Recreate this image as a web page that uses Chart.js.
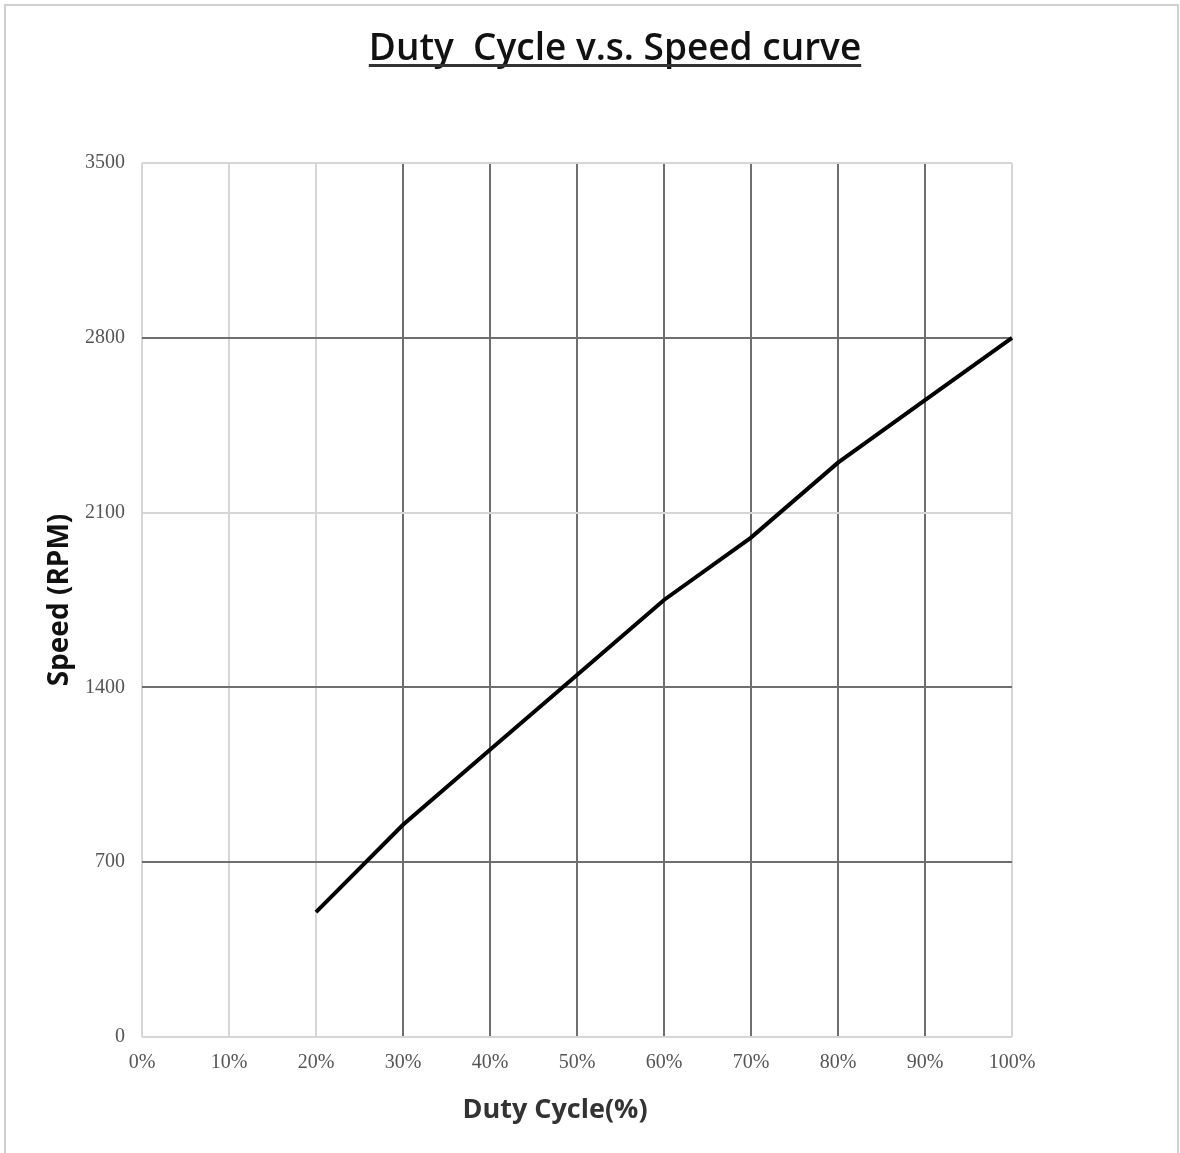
<!DOCTYPE html>
<html>
<head>
<meta charset="utf-8">
<script src="https://cdn.jsdelivr.net/npm/chart.js@4"></script>
<style>
  body { margin: 0; background: #fff; }
</style>
</head>
<body>
<canvas id="chart" width="1180" height="1153"></canvas>
<script>
// data
const dutyLabels = ["0%", "10%", "20%", "30%", "40%", "50%", "60%", "70%", "80%", "90%", "100%"];
const speedValues = [null, null, 500, 850, 1150, 1450, 1750, 2000, 2300, 2550, 2800];
const yTicks = [0, 700, 1400, 2100, 2800, 3500];
const titleText = "Duty  Cycle v.s. Speed curve";
const xTitleText = "Duty Cycle(%)";

const lightGrid = "#d6d6d6";
const darkGrid = "#6f6f6f";

// frame, underlined title and x axis title
const decorPlugin = {
  id: "decor",
  beforeDraw(chart) {
    const ctx = chart.ctx;
    ctx.save();
    ctx.fillStyle = "#fff";
    ctx.fillRect(0, 0, chart.width, chart.height);
    ctx.strokeStyle = "#d0d0d0";
    ctx.lineWidth = 2;
    ctx.strokeRect(5, 5, 1173, 1160);
    ctx.restore();
  },
  afterDraw(chart) {
    const ctx = chart.ctx;
    ctx.save();
    ctx.font = "600 37px 'Open Sans'";
    ctx.fillStyle = "#111";
    ctx.textAlign = "center";
    ctx.textBaseline = "alphabetic";
    const cx = 615, base = 60;
    ctx.fillText(titleText, cx, base);
    const w = ctx.measureText(titleText).width;
    ctx.fillStyle = "#333";
    ctx.fillRect(cx - w / 2, base + 4, w, 3);

    ctx.font = "bold 27px 'Open Sans'";
    ctx.textBaseline = "middle";
    ctx.fillText(xTitleText, 555, 1110);
    ctx.restore();
  }
};

new Chart(document.getElementById("chart"), {
  type: "line",
  data: {
    labels: dutyLabels,
    datasets: [{
      label: "Speed",
      data: speedValues,
      borderColor: "#000",
      borderWidth: 4,
      pointRadius: 0,
      tension: 0,
      fill: false
    }]
  },
  options: {
    responsive: false,
    animation: false,
    layout: { padding: { top: 163, right: 168, left: 0, bottom: 0 } },
    plugins: {
      legend: { display: false },
      tooltip: { enabled: false }
    },
    scales: {
      x: {
        offset: false,
        afterFit: (scale) => { scale.height = 116; },
        grid: {
          drawTicks: false,
          lineWidth: 2,
          color: (c) => ([0, 1, 2, 10].includes(c.index) ? lightGrid : darkGrid)
        },
        border: { display: false },
        ticks: {
          padding: 14,
          maxRotation: 0,
          autoSkip: false,
          color: "#555",
          font: { family: "'Liberation Serif'", size: 20 }
        },
        title: { display: false, text: xTitleText }
      },
      y: {
        min: 0,
        max: 3500,
        afterFit: (scale) => { scale.width = 142; },
        afterBuildTicks: (scale) => { scale.ticks = yTicks.map((v) => ({ value: v })); },
        grid: {
          drawTicks: false,
          lineWidth: 2,
          color: (c) => ([0, 2100, 3500].includes(c.tick.value) ? lightGrid : darkGrid)
        },
        border: { display: false },
        ticks: {
          padding: 17,
          color: "#555",
          font: { family: "'Liberation Serif'", size: 20 },
          callback: (v) => String(v)
        },
        title: {
          display: true,
          text: "Speed (RPM)",
          color: "#111",
          font: { family: "'Open Sans'", size: 28, weight: "bold", lineHeight: 1.2 },
          padding: { top: 43, bottom: 0 }
        }
      }
    }
  },
  plugins: [decorPlugin]
});
</script>
</body>
</html>
